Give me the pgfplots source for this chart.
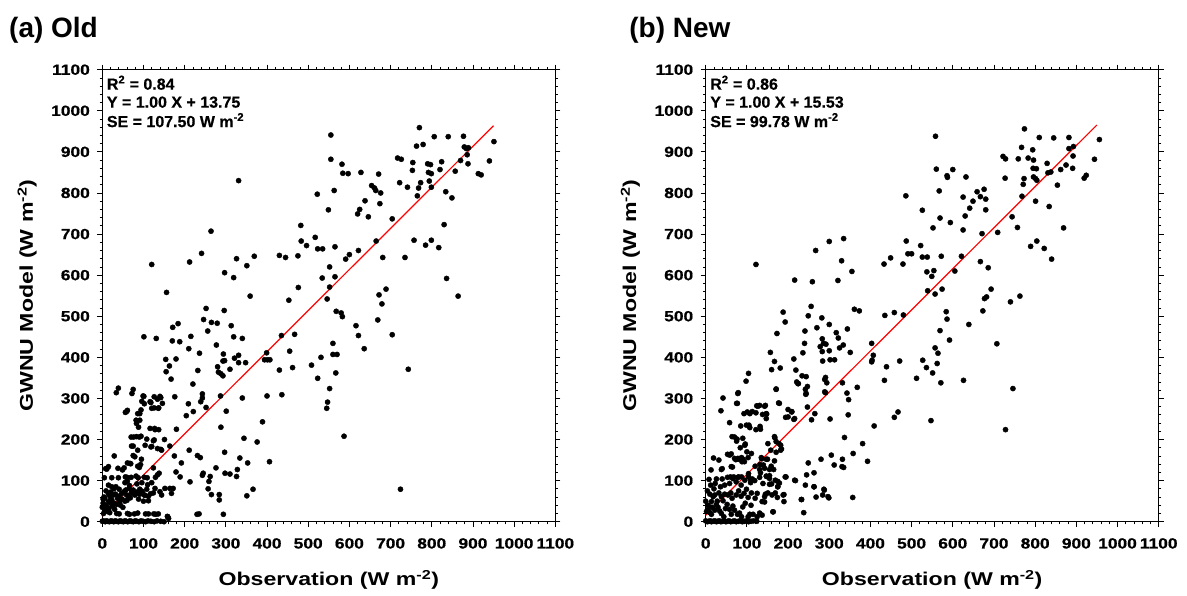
\documentclass[border=0pt]{standalone}
\usepackage{fontspec}
\setmainfont{Liberation Sans}
\newfontfamily\wide{Liberation Sans}[FakeStretch=1.25]
\newfontfamily\tickf{Liberation Sans Bold}[FakeStretch=1.18, FakeBold=0.8]
\newfontfamily\statf{Liberation Sans Bold}[FakeBold=0.5]
\newfontfamily\ttl{Liberation Sans Bold}
\usepackage{pgfplots}
\usepackage{pgfplotstable}
\pgfplotsset{compat=1.18}

% (a) Old: observation vs model
\pgfplotstableread{
x y
770 959
555 941
806 937
840 937
877 938
951 925
763 914
779 918
879 912
884 908
889 910
886 893
870 879
888 871
940 878
555 882
582 870
584 848
597 847
628 850
717 885
726 882
754 874
790 871
797 869
792 850
799 847
794 829
799 814
824 876
820 857
753 855
857 853
913 847
920 844
722 825
741 814
773 825
768 812
765 793
331 830
563 806
654 818
661 812
664 806
671 846
676 800
674 774
638 781
625 760
620 749
646 742
549 759
522 797
834 803
849 788
704 737
830 723
482 721
517 692
483 683
496 672
523 664
535 664
565 669
665 683
757 685
785 673
799 685
817 667
735 643
681 643
622 660
591 639
600 650
552 620
565 596
534 593
552 571
546 542
672 552
679 530
689 566
836 592
864 549
476 570
453 539
430 648
445 643
475 647
369 646
351 623
326 640
319 594
297 606
212 632
241 653
264 707
120 626
156 558
359 549
568 512
580 508
583 499
252 519
296 514
246 492
265 485
279 483
313 477
171 473
184 482
669 491
616 477
622 453
636 421
704 455
435 453
467 456
101 450
131 446
170 440
188 438
215 451
319 450
340 446
256 464
277 430
210 421
236 410
294 408
297 392
293 391
321 398
331 405
331 387
348 387
310 371
280 377
282 364
288 360
293 355
154 395
163 379
155 365
167 347
179 396
232 368
220 335
399 411
401 394
394 394
407 394
430 369
462 375
455 415
508 381
531 400
560 434
560 407
570 407
567 362
523 349
552 324
547 291
545 276
743 371
587 208
724 79
436 309
400 306
389 243
406 146
376 194
344 203
340 301
287 306
243 311
243 301
239 292
252 278
221 268
209 287
204 258
301 269
288 230
180 225
151 200
164 184
176 304
211 174
231 161
238 156
175 160
192 143
179 121
189 109
213 97
297 169
276 131
245 118
243 113
262 110
259 98
257 80
265 66
284 66
284 53
298 118
310 116
326 110
328 127
334 155
353 143
351 63
366 79
294 18
230 18
235 19
158 13
161 8
116 227
127 227
108 201
124 197
120 183
142 176
134 114
138 118
129 108
124 131
102 287
118 290
96 293
140 305
142 302
146 288
134 298
126 277
137 277
101 305
39 325
34 314
75 322
72 312
59 268
56 266
94 272
91 263
82 247
91 247
83 239
88 230
70 206
76 206
83 207
90 206
94 208
75 184
29 160
75 161
61 143
69 141
90 132
95 152
93 139
8 129
15 134
38 130
53 131
82 111
87 107
102 108
109 107
5 107
23 107
39 107
56 109
60 108
70 108
61 99
55 95
15 89
23 85
49 126
67 142
86 135
11 128
79 158
86 174
71 184
104 186
118 182
126 199
134 178
144 174
128 224
137 224
86 263
61 271
99 306
116 292
120 276
136 276
126 304
6 28
11 36
2 45
15 49
19 61
27 65
32 67
6 57
15 67
23 53
29 45
37 57
40 62
47 69
53 73
59 65
63 61
70 69
75 77
79 65
86 70
91 79
95 69
102 65
108 79
112 62
124 70
128 81
140 73
144 65
152 81
164 81
168 69
172 81
33 85
41 79
57 77
65 81
72 74
83 72
91 67
97 74
104 64
112 51
117 68
3 20
8 40
12 25
16 32
20 45
25 38
30 30
35 42
42 48
48 55
55 50
4 60
9 75
20 72
28 80
0 35
2 55
18 22
44 40
50 35
60 52
68 58
88 55
100 50
84 92
96 95
66 88
110 90
120 95
35 20
41 19
61 20
66 18
78 19
86 21
105 19
112 19
125 19
130 18
136 19
159 12
0 1
3 2
7 0
10 2
13 1
17 0
21 2
24 1
28 0
31 2
35 1
39 0
43 2
47 1
51 0
55 2
58 1
62 0
67 2
71 1
75 0
80 2
84 1
89 0
94 2
99 1
105 0
111 2
118 1
126 0
133 2
142 1
150 0
}\olddata

% (b) New: observation vs model
\pgfplotstableread{
x y
774 956
558 938
810 935
845 934
882 935
956 930
767 911
794 905
783 885
796 880
882 908
893 913
892 890
891 860
944 882
924 843
919 836
722 889
728 883
759 883
829 872
862 857
875 868
795 860
803 859
801 835
796 839
804 831
838 851
831 849
773 835
771 821
768 792
854 819
727 836
801 780
834 767
744 742
757 716
709 704
869 715
560 858
567 805
586 842
587 838
600 857
632 839
659 803
667 791
676 809
680 785
680 759
649 780
641 763
630 744
625 790
625 710
594 728
569 739
552 715
526 758
486 793
487 683
522 672
500 652
526 644
538 644
572 646
621 646
671 701
667 633
686 618
789 670
804 683
822 665
840 639
605 610
537 608
554 611
549 597
539 562
557 554
574 566
693 566
677 543
682 547
673 513
740 535
763 549
433 627
449 642
479 627
491 652
435 502
458 509
480 503
584 511
586 493
569 465
592 442
557 423
564 410
562 385
527 393
536 375
551 362
571 338
512 349
547 246
639 480
626 344
707 433
728 224
746 324
471 391
439 377
434 344
403 434
407 405
404 393
403 389
368 327
409 233
381 190
393 147
458 254
467 267
358 166
357 59
332 152
331 134
337 205
346 260
347 297
343 313
332 338
351 412
344 469
361 517
373 513
355 609
330 635
321 587
335 689
300 682
267 660
259 584
216 588
256 524
249 501
188 510
193 486
122 626
282 496
270 472
300 480
317 460
322 447
334 430
325 423
241 464
240 434
236 411
214 396
219 369
221 340
225 336
234 355
283 445
286 434
278 426
292 432
283 414
300 416
313 394
302 394
284 391
291 351
294 338
289 346
291 314
242 322
243 310
247 329
247 279
265 263
257 248
173 458
167 390
157 412
160 370
181 374
171 322
177 289
194 254
209 268
214 249
302 250
280 152
305 162
335 132
312 138
249 143
245 114
263 119
263 85
268 60
284 65
288 77
299 58
233 54
238 22
218 100
195 109
190 66
179 94
175 85
184 177
182 186
171 169
168 204
178 190
165 127
155 112
160 92
164 24
145 67
143 48
93 263
101 267
113 268
124 282
122 265
131 283
145 283
138 261
148 262
132 232
133 225
147 251
122 224
105 235
98 342
104 361
79 314
75 288
42 301
37 270
58 241
85 233
64 207
70 206
76 201
75 196
90 203
84 180
96 189
100 170
91 152
53 164
62 165
73 151
78 154
88 146
65 133
60 109
53 108
68 109
78 108
87 109
104 117
109 102
113 104
19 155
32 150
40 129
40 104
26 104
13 126
8 103
120 135
132 139
136 153
133 119
150 152
140 138
148 110
159 135
155 91
175 98
38 127
58 162
62 134
70 154
80 152
87 156
94 146
103 156
111 166
135 156
147 152
131 127
143 130
155 127
167 148
158 174
171 195
182 174
167 207
151 190
95 186
107 229
99 235
107 263
127 281
143 281
147 263
179 288
200 273
209 267
216 251
200 255
77 288
78 312
171 323
224 336
244 353
244 312
289 316
6 40
14 49
18 61
10 67
22 65
32 70
38 61
42 51
46 67
54 65
61 70
64 57
74 65
80 75
86 62
93 69
99 79
103 59
111 70
120 57
125 69
137 49
143 61
151 70
161 65
169 70
174 59
188 65
232 54
190 49
12 89
23 93
36 85
46 89
58 93
66 105
74 97
80 109
86 89
95 101
104 109
109 95
119 100
131 108
139 93
147 111
155 105
169 101
175 85
193 109
216 101
242 89
263 85
287 79
297 61
14 18
38 20
44 12
62 18
77 18
82 21
87 12
103 12
107 18
115 18
125 12
131 21
137 16
163 24
2 25
6 30
10 22
16 35
22 28
26 42
30 35
34 26
48 32
52 42
0 50
4 75
20 80
28 50
58 30
66 38
70 28
90 36
96 45
110 40
0 2
4 0
7 1
11 2
14 0
18 1
22 2
26 0
29 1
33 2
37 0
41 1
45 2
49 0
53 1
57 2
61 0
66 1
70 2
74 0
79 1
84 2
89 0
94 1
99 2
104 0
110 1
116 2
124 1
}\newdata

\pgfplotsset{
  panel/.style={
    width=453bp, height=452bp, scale only axis,
    xmin=0, xmax=1100, ymin=0, ymax=1100,
    xtick={0,100,...,1100}, ytick={0,100,...,1100},
    minor tick num=4,
    tick align=outside, tick pos=both, ticklabel pos=left,
    major tick length=5bp, minor tick length=2.7bp,
    axis line style={line width=1.2bp},
    tick style={black, line width=0.8bp},
    tick label style={font=\tickf\fontsize{14.7bp}{15bp}\selectfont},
    /pgf/number format/assume math mode=true,
    /pgf/number format/1000 sep={},
    xticklabel style={yshift=-8bp},
    yticklabel style={xshift=-4bp},
    label style={font=\wide\bfseries\fontsize{18.5bp}{20bp}\selectfont},
    xlabel={Observation (W m\textsuperscript{-2})},
    ylabel={GWNU Model (W m\textsuperscript{-2})},
    xlabel style={at={(axis description cs:0.5,-0.129)}, anchor=center},
    ylabel style={at={(axis description cs:-0.166,0.5)}, anchor=center},
    clip=false,
  },
  dots/.style={only marks, mark=*, mark size=2.6bp, black},
  fit/.style={red, line width=1.2bp, no marks},
}
\tikzset{
  stat/.style={anchor=base west, inner sep=0pt, font=\statf\fontsize{16bp}{18bp}\selectfont},
  ttlstyle/.style={anchor=base west, inner sep=0pt, font=\ttl\fontsize{28bp}{30bp}\selectfont},
}

\begin{document}
\begin{tikzpicture}
\useasboundingbox (0,0) rectangle (1187bp,596bp);

\begin{axis}[panel, at={(102.3bp,74.3bp)}, anchor=south west]
  \addplot[dots] table {\olddata};
  \addplot[fit] coordinates {(0,13.75) (950,963.75)};
  \node[stat] at (axis description cs:0.0097,0.9558) {R\textsuperscript{2} = 0.84};
  \node[stat] at (axis description cs:0.0097,0.916) {Y = 1.00 X + 13.75};
  \node[stat] at (axis description cs:0.0097,0.873) {SE = 107.50 W m\textsuperscript{-2}};
  \node[ttlstyle] at (axis description cs:-0.206,1.0715) {(a) Old};
\end{axis}

\begin{axis}[panel, at={(705.7bp,74.3bp)}, anchor=south west]
  \addplot[dots] table {\newdata};
  \addplot[fit] coordinates {(0,15.53) (950,965.53)};
  \node[stat] at (axis description cs:0.0097,0.9558) {R\textsuperscript{2} = 0.86};
  \node[stat] at (axis description cs:0.0097,0.916) {Y = 1.00 X + 15.53};
  \node[stat] at (axis description cs:0.0097,0.873) {SE = 99.78 W m\textsuperscript{-2}};
  \node[ttlstyle] at (axis description cs:-0.169,1.0715) {(b) New};
\end{axis}
\end{tikzpicture}
\end{document}
